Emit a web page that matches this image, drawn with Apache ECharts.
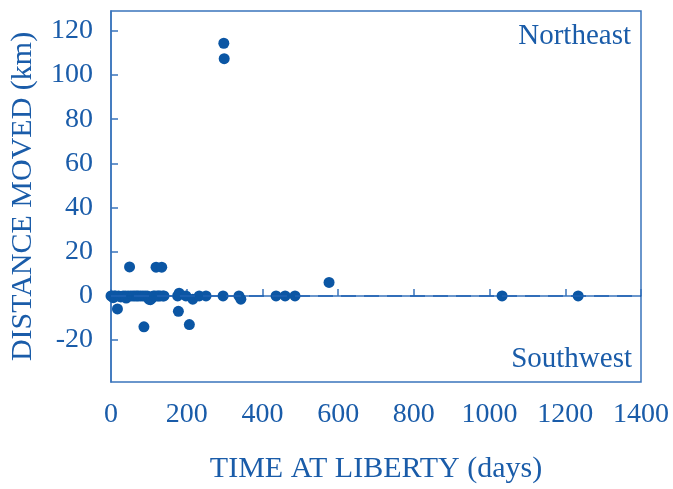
<!DOCTYPE html>
<html>
<head>
<meta charset="utf-8">
<script src="https://cdn.jsdelivr.net/npm/echarts@6/dist/echarts.min.js"></script>
<style>
html,body{margin:0;padding:0;background:#fff;}
#chart{width:673px;height:489px;}
</style>
</head>
<body>
<div id="chart"></div>
<script>
// Time at liberty (days)
const days = [0, 3, 6, 9, 12, 17, 20, 26, 32, 38, 40, 45, 49, 52, 58, 63, 68, 72, 78, 84, 87, 90, 96, 100, 104, 108, 112, 116, 119, 122, 126, 130, 134, 137, 140,
  176, 180, 178, 198, 207, 216, 233, 251, 296, 298, 299, 338, 343, 436, 460, 486, 576, 1033, 1234];
// Distance moved (km), + = northeast, - = southwest
const dist = [0, 0, -0.8, 0, 0, -5.9, 0, -0.5, 0, 0, -1, 0, 13.1, 0, 0, 0, 0, 0, 0, 0, -14, 0, 0, -1.5, -1.7, -1, 0, 0, 13, 0, 0, 0, 13, 0, 0,
  0, 1.2, -7, 0, -13, -1.5, 0, 0, 0, 114.4, 107.4, 0, -1.5, 0, 0, 0, 6.1, 0, 0];
const xTicks = [0, 200, 400, 600, 800, 1000, 1200, 1400];
const yTicks = [-20, 0, 20, 40, 60, 80, 100, 120];

const textColor = '#1a5ca9';
const axisColor = '#3a74bc';
const dotColor = '#0b56a4';
const font = 'Liberation Serif, Times New Roman, serif';

const chart = echarts.init(document.getElementById('chart'));
chart.setOption({
  animation: false,
  backgroundColor: '#ffffff',
  grid: {left: 110, right: 32, top: 11, bottom: 106, show: true, borderColor: axisColor, borderWidth: 1.5, backgroundColor: 'transparent'},
  xAxis: {
    type: 'value', min: 0, max: 1400, interval: 200,
    name: 'TIME AT LIBERTY (days)', nameLocation: 'middle', nameGap: 72,
    nameTextStyle: {color: textColor, fontFamily: font, fontSize: 30},
    axisLine: {show: true, lineStyle: {color: axisColor, width: 1.5}},
    axisTick: {show: true, inside: true, length: 7, lineStyle: {color: axisColor, width: 1.5}, customValues: xTicks},
    axisLabel: {color: textColor, fontFamily: font, fontSize: 28, margin: 19, customValues: xTicks,
      formatter: v => String(v)},
    splitLine: {show: false}
  },
  yAxis: {
    type: 'value', min: -39, max: 129,
    name: 'DISTANCE MOVED (km)', nameLocation: 'middle', nameGap: 73, nameRotate: 90,
    nameTextStyle: {color: textColor, fontFamily: font, fontSize: 30},
    axisLine: {show: true, lineStyle: {color: axisColor, width: 1.5}},
    axisTick: {show: true, inside: true, length: 7, lineStyle: {color: axisColor, width: 1.5}, customValues: yTicks},
    axisLabel: {color: textColor, fontFamily: font, fontSize: 28, margin: 18, customValues: yTicks,
      formatter: v => String(v)},
    splitLine: {show: false}
  },
  series: [{
    type: 'scatter',
    data: days.map((d, i) => [d, dist[i]]),
    symbolSize: 11,
    itemStyle: {color: dotColor, opacity: 1},
    markLine: {
      silent: true, symbol: 'none', label: {show: false},
      lineStyle: {color: '#1f62b3', width: 1.5, type: [15, 8]},
      data: [{yAxis: 0}]
    },
    z: 3
  }],
  graphic: [
    {type: 'text', right: 42, top: 22, style: {text: 'Northeast', fill: textColor, font: '29px ' + font}},
    {type: 'text', right: 41, top: 345, style: {text: 'Southwest', fill: textColor, font: '29px ' + font}}
  ]
});
</script>
</body>
</html>
